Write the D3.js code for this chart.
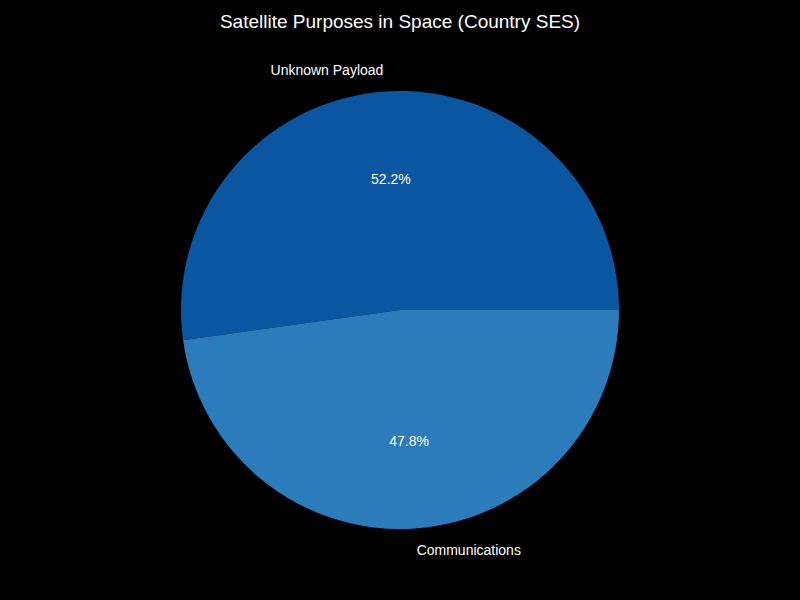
<!DOCTYPE html><html><head><script src="https://cdn.jsdelivr.net/npm/d3@7"></script>
<style>body{margin:0;background:#000}</style></head><body><svg width="800" height="600"></svg>
<script>
const categories=["Unknown Payload","Communications"];
const values=[52.2,47.8];
const colors=["#0b56a0","#2c7bba"];
const svg=d3.select("svg");
svg.append("rect").attr("width",800).attr("height",600).attr("fill","#000");
svg.append("text").attr("x",400).attr("y",28).attr("text-anchor","middle").attr("fill","#fff")
 .attr("font-family","Liberation Sans, Arial, sans-serif").attr("font-size",19).text("Satellite Purposes in Space (Country SES)");
const cx=400,cy=310,r=219;
const g=svg.append("g").attr("transform",`translate(${cx},${cy})`);
const pie=d3.pie().sort(null).startAngle(Math.PI/2).endAngle(Math.PI/2-2*Math.PI);
const arcs=pie(values);
const arc=d3.arc().innerRadius(0).outerRadius(r);
g.selectAll("path").data(arcs).join("path").attr("d",arc).attr("fill",(d,i)=>colors[i]);
const tot=d3.sum(values);
arcs.forEach((d,i)=>{
 const a=(d.startAngle+d.endAngle)/2; // d3 angle, clockwise from top
 const x=Math.sin(a), y=-Math.cos(a);
 g.append("text").attr("x",1.1*r*x).attr("y",1.1*r*y).attr("dy","0.35em")
  .attr("text-anchor",x<0?"end":"start").attr("fill","#fff")
  .attr("font-family","Liberation Sans, Arial, sans-serif").attr("font-size",14).text(categories[i]);
 g.append("text").attr("x",0.6*r*x).attr("y",0.6*r*y).attr("dy","0.35em")
  .attr("text-anchor","middle").attr("fill","#fff")
  .attr("font-family","Liberation Sans, Arial, sans-serif").attr("font-size",14).text((values[i]/tot*100).toFixed(1)+"%");
});
</script></body></html>
